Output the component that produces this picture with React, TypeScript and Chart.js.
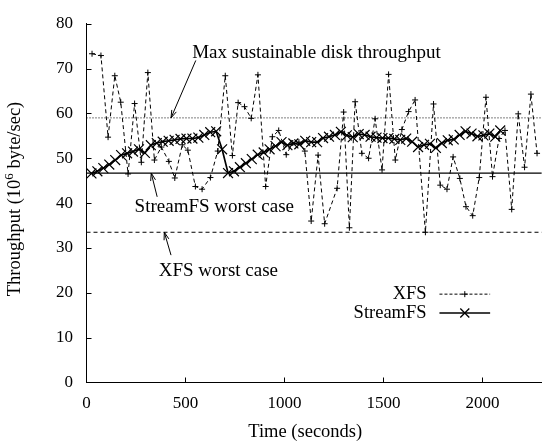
import React, { useEffect, useRef } from "react";
import { Chart, registerables } from "chart.js";

Chart.register(...registerables);

// ---------- data ----------
const xfsTimes = [28, 73, 109, 143, 173, 210, 243, 277, 310, 343, 378, 416, 446, 484, 512, 550, 584, 626, 663, 701, 737, 766, 798, 832, 866, 905, 939, 971, 1009, 1042, 1073, 1103, 1135, 1170, 1203, 1266, 1299, 1328, 1357, 1391, 1425, 1458, 1493, 1526, 1560, 1593, 1627, 1660, 1712, 1753, 1787, 1821, 1852, 1886, 1917, 1951, 1984, 2018, 2051, 2084, 2114, 2148, 2181, 2213, 2245, 2276];
const xfsValues = [73.3, 72.9, 54.7, 68.4, 62.5, 46.5, 62.2, 49.1, 69.1, 49.6, 52.5, 49.3, 45.6, 53.0, 51.8, 43.7, 43.1, 45.7, 51.6, 68.4, 50.6, 62.4, 61.5, 58.9, 68.6, 43.7, 54.8, 56.2, 50.8, 53.4, 53.6, 51.6, 36.0, 50.7, 35.4, 43.3, 60.3, 34.5, 62.6, 51.1, 50.0, 58.8, 47.4, 68.7, 49.6, 56.4, 60.4, 63.0, 33.5, 62.1, 44.0, 43.1, 50.3, 45.5, 39.2, 37.2, 45.7, 63.6, 45.9, 54.4, 56.2, 38.6, 59.9, 48.0, 64.3, 51.1];

const streamTimes = [25, 55, 85, 115, 145, 175, 205, 235, 265, 295, 325, 355, 385, 415, 445, 475, 505, 535, 565, 595, 625, 655, 685, 715, 745, 775, 805, 835, 865, 895, 925, 955, 985, 1015, 1045, 1075, 1105, 1135, 1165, 1195, 1225, 1255, 1285, 1315, 1345, 1375, 1405, 1435, 1465, 1495, 1525, 1555, 1585, 1615, 1645, 1675, 1705, 1735, 1765, 1795, 1825, 1855, 1885, 1915, 1945, 1975, 2005, 2035, 2065, 2090];
const streamValues = [46.6, 47.1, 47.8, 48.6, 49.6, 50.7, 51.1, 51.5, 52.0, 51.2, 52.9, 53.4, 53.7, 53.9, 54.1, 54.3, 54.4, 54.4, 54.6, 55.2, 55.8, 56.0, 52.0, 46.7, 47.1, 48.0, 48.9, 49.8, 50.8, 51.3, 52.0, 52.7, 53.6, 52.9, 53.3, 53.1, 53.9, 53.6, 53.6, 54.5, 54.8, 55.2, 55.9, 55.1, 54.7, 55.4, 55.2, 54.8, 54.6, 54.5, 54.5, 54.3, 54.1, 54.4, 53.7, 52.5, 53.0, 53.2, 52.3, 53.4, 54.0, 54.2, 55.2, 56.0, 55.5, 54.9, 55.1, 55.5, 54.8, 56.2];

const maxSustainable = 59;
const streamWorst = 46.7;
const xfsWorst = 33.5;

const xTickValues = [0, 500, 1000, 1500, 2000];
const yTickValues = [0, 10, 20, 30, 40, 50, 60, 70, 80];

const seriesLabels = ["XFS", "StreamFS"];
const annotationTexts = ["Max sustainable disk throughput", "StreamFS worst case", "XFS worst case"];
const xTitle = "Time (seconds)";
const yTitleParts = ["Throughput (10", "6", " byte/sec)"];

const X_MIN = 0;
const X_MAX = 2300;
const Y_MIN = 0;
const Y_MAX = 80;

// ---------- styling ----------
const FONT = '"Liberation Serif", "Times New Roman", Times, serif';

function drawArrow(ctx: CanvasRenderingContext2D, x1: number, y1: number, x2: number, y2: number) {
  ctx.beginPath();
  ctx.moveTo(x1, y1);
  ctx.lineTo(x2, y2);
  ctx.stroke();
  const ang = Math.atan2(y2 - y1, x2 - x1);
  const L = 8;
  const a = Math.PI / 10;
  ctx.beginPath();
  ctx.moveTo(x2 - L * Math.cos(ang - a), y2 - L * Math.sin(ang - a));
  ctx.lineTo(x2, y2);
  ctx.lineTo(x2 - L * Math.cos(ang + a), y2 - L * Math.sin(ang + a));
  ctx.stroke();
}

const overlayPlugin = {
  id: "overlay",
  afterDraw(chart: any) {
    const ctx: CanvasRenderingContext2D = chart.ctx;
    const xs = chart.scales.x;
    const ys = chart.scales.y;
    const area = chart.chartArea;
    const px = (t: number) => xs.getPixelForValue(t);
    const py = (v: number) => ys.getPixelForValue(v);
    ctx.save();
    ctx.strokeStyle = "#000";
    ctx.fillStyle = "#000";
    ctx.lineWidth = 1;

    // inward tick marks
    ctx.beginPath();
    for (const v of yTickValues) {
      if (v === Y_MIN) continue;
      const y = Math.round(py(v)) + 0.5;
      ctx.moveTo(area.left, y);
      ctx.lineTo(area.left + 5, y);
    }
    for (const v of xTickValues) {
      if (v === X_MIN) continue;
      const x = Math.round(px(v)) + 0.5;
      ctx.moveTo(x, area.bottom);
      ctx.lineTo(x, area.bottom - 5);
    }
    ctx.stroke();

    // annotations
    ctx.font = `19px ${FONT}`;
    ctx.textAlign = "left";
    ctx.textBaseline = "alphabetic";
    ctx.fillText(annotationTexts[0], px(534), py(72.4));
    ctx.fillText(annotationTexts[1], px(243), py(37.97));
    ctx.fillText(annotationTexts[2], px(365), py(23.76));
    ctx.lineWidth = 1;
    drawArrow(ctx, px(552), py(71.8), px(427), py(maxSustainable));
    drawArrow(ctx, px(357), py(41.4), px(327), py(streamWorst));
    drawArrow(ctx, px(427), py(28.4), px(393), py(xfsWorst));

    // legend
    ctx.font = `18.5px ${FONT}`;
    ctx.textAlign = "right";
    const lx = px(1718);
    const s1 = px(1783);
    const s2 = px(2039);
    const sm = (s1 + s2) / 2;
    const ly1 = py(19.7);
    const ly2 = py(15.5);
    ctx.fillText(seriesLabels[0], lx, ly1 + 5);
    ctx.fillText(seriesLabels[1], lx, ly2 + 5);
    // XFS sample
    ctx.save();
    ctx.setLineDash([3, 2]);
    ctx.beginPath();
    ctx.moveTo(s1, ly1);
    ctx.lineTo(s2, ly1);
    ctx.stroke();
    ctx.restore();
    ctx.beginPath();
    ctx.moveTo(sm - 3, ly1);
    ctx.lineTo(sm + 3, ly1);
    ctx.moveTo(sm, ly1 - 3);
    ctx.lineTo(sm, ly1 + 3);
    ctx.stroke();
    // StreamFS sample
    ctx.lineWidth = 1.6;
    ctx.beginPath();
    ctx.moveTo(s1, ly2);
    ctx.lineTo(s2, ly2);
    ctx.stroke();
    ctx.lineWidth = 1.3;
    ctx.beginPath();
    ctx.moveTo(sm - 4.5, ly2 - 4.5);
    ctx.lineTo(sm + 4.5, ly2 + 4.5);
    ctx.moveTo(sm - 4.5, ly2 + 4.5);
    ctx.lineTo(sm + 4.5, ly2 - 4.5);
    ctx.stroke();

    // x title
    ctx.font = `18.5px ${FONT}`;
    ctx.textAlign = "center";
    ctx.fillText(xTitle, (px(X_MIN) + px(2200)) / 2 + 1, 436.5);

    // y title (rotated, with superscript)
    ctx.save();
    ctx.translate(20, 199);
    ctx.rotate(-Math.PI / 2);
    const mainFont = `18.5px ${FONT}`;
    const supFont = `13px ${FONT}`;
    ctx.font = mainFont;
    const w1 = ctx.measureText(yTitleParts[0]).width;
    const w3 = ctx.measureText(yTitleParts[2]).width;
    ctx.font = supFont;
    const w2 = ctx.measureText(yTitleParts[1]).width;
    const total = w1 + w2 + w3;
    let x0 = -total / 2;
    ctx.textAlign = "left";
    ctx.font = mainFont;
    ctx.fillText(yTitleParts[0], x0, 0);
    x0 += w1;
    ctx.font = supFont;
    ctx.fillText(yTitleParts[1], x0, -7);
    x0 += w2;
    ctx.font = mainFont;
    ctx.fillText(yTitleParts[2], x0, 0);
    ctx.restore();

    ctx.restore();
  },
};

export default function App() {
  const canvasRef = useRef<HTMLCanvasElement | null>(null);

  useEffect(() => {
    if (!canvasRef.current) return;
    const hLine = (v: number) => [
      { x: X_MIN, y: v },
      { x: X_MAX, y: v },
    ];
    const chart = new Chart(canvasRef.current, {
      type: "line",
      data: {
        datasets: [
          {
            label: seriesLabels[1],
            data: streamTimes.map((t, i) => ({ x: t, y: streamValues[i] })),
            borderColor: "#000",
            backgroundColor: "#000",
            borderWidth: 1.7,
            pointStyle: "crossRot",
            pointRadius: 7,
            pointBorderWidth: 1.2,
            pointBorderColor: "#000",
            tension: 0,
            fill: false,
          },
          {
            label: seriesLabels[0],
            data: xfsTimes.map((t, i) => ({ x: t, y: xfsValues[i] })),
            borderColor: "#000",
            backgroundColor: "#000",
            borderWidth: 1,
            borderDash: [4, 3],
            pointStyle: "cross",
            pointRadius: 3,
            pointBorderWidth: 1,
            pointBorderColor: "#000",
            tension: 0,
            fill: false,
          },
          {
            label: "max",
            data: hLine(maxSustainable),
            borderColor: "#000",
            borderWidth: 1,
            borderDash: [1, 2],
            pointRadius: 0,
          },
          {
            label: "streamWorst",
            data: hLine(streamWorst),
            borderColor: "#000",
            borderWidth: 1.2,
            pointRadius: 0,
          },
          {
            label: "xfsWorst",
            data: hLine(xfsWorst),
            borderColor: "#000",
            borderWidth: 1,
            borderDash: [4, 3],
            pointRadius: 0,
          },
        ],
      },
      options: {
        responsive: false,
        animation: false,
        devicePixelRatio: 1,
        layout: { padding: { top: 20.5, right: 4.65, left: 0, bottom: 0 } },
        plugins: {
          legend: { display: false },
          tooltip: { enabled: false },
        },
        scales: {
          x: {
            type: "linear",
            min: X_MIN,
            max: X_MAX,
            afterBuildTicks: (s: any) => {
              s.ticks = xTickValues.map((v) => ({ value: v }));
            },
            afterFit: (s: any) => {
              s.height = 58.5;
            },
            grid: { display: false, drawTicks: false },
            border: { display: true, color: "#000", width: 1 },
            ticks: {
              color: "#000",
              font: { family: FONT, size: 17 },
              padding: 11,
              maxRotation: 0,
              autoSkip: false,
              callback: (v: any) => String(v),
            },
          },
          y: {
            type: "linear",
            min: Y_MIN,
            max: Y_MAX,
            afterBuildTicks: (s: any) => {
              s.ticks = yTickValues.map((v) => ({ value: v }));
            },
            afterFit: (s: any) => {
              s.width = 86.5;
            },
            grid: { display: false, drawTicks: false },
            border: { display: true, color: "#000", width: 1 },
            ticks: {
              color: "#000",
              font: { family: FONT, size: 17 },
              padding: 13.5,
              autoSkip: false,
              callback: (v: any) => String(v),
            },
          },
        },
      },
      plugins: [overlayPlugin],
    } as any);
    return () => chart.destroy();
  }, []);

  return (
    <div
      style={{
        position: "fixed",
        left: 0,
        top: 0,
        width: 544,
        height: 441,
        overflow: "hidden",
        background: "#fff",
      }}
    >
      <canvas ref={canvasRef} width={550} height={441} style={{ display: "block" }} />
    </div>
  );
}
